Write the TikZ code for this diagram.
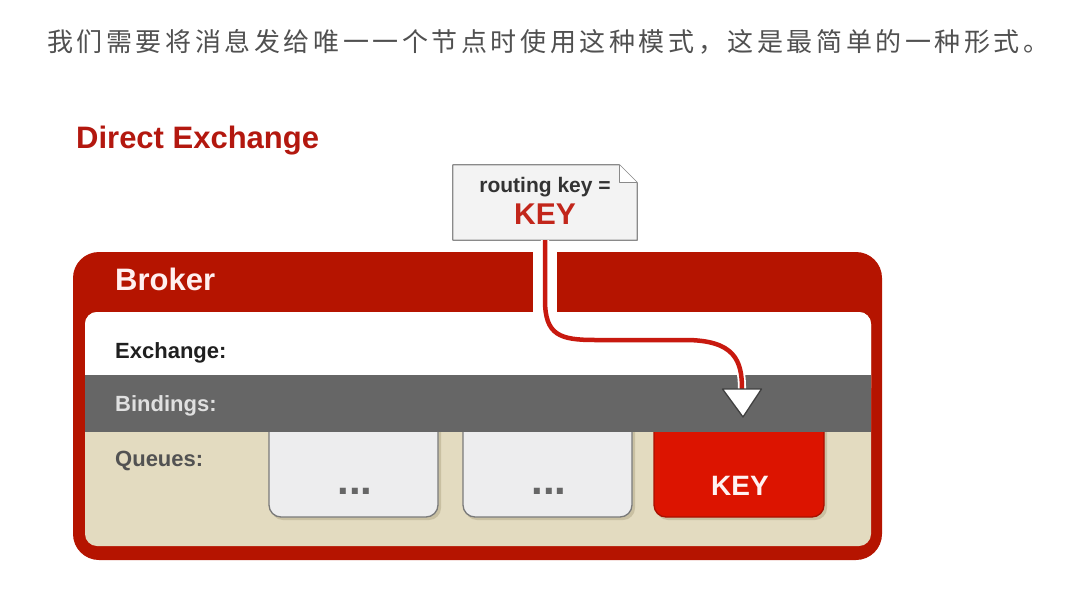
\documentclass[tikz,border=0pt]{standalone}
\usepackage{fontspec}
\setmainfont{Liberation Sans}
\newfontfamily\cjk[LetterSpace=13.8]{Noto Sans CJK SC}
\definecolor{brokerred}{HTML}{B51400}
\definecolor{titlered}{HTML}{B3180F}
\definecolor{keyred}{HTML}{C2261B}
\definecolor{routered}{HTML}{C8190F}
\definecolor{qred}{HTML}{DC1400}
\definecolor{qredborder}{HTML}{A81000}
\definecolor{bandgray}{HTML}{666666}
\definecolor{beige}{HTML}{E3DBC0}
\definecolor{shadowbeige}{HTML}{C9C0A2}
\definecolor{qgray}{HTML}{EDEDEE}
\definecolor{qborder}{HTML}{7A7A7A}
\definecolor{notefill}{HTML}{F3F3F3}
\definecolor{noteborder}{HTML}{8A8A8A}
\definecolor{introgray}{HTML}{505050}
\definecolor{dotgray}{HTML}{666666}
\tikzset{
  lbl/.style={anchor=base west, inner sep=0, font=\bfseries\fontsize{22}{26}\selectfont},
  queuebox/.style={draw=qborder, fill=qgray, line width=1.3, rounded corners=12},
  queueshadow/.style={fill=shadowbeige, rounded corners=12},
  route/.style={draw=white, double=routered, line width=1.8, double distance=4.5},
}
\begin{document}
\begin{tikzpicture}[x=1pt, y=-1pt]
\useasboundingbox (0,0) rectangle (1085,589);
% intro text
\node[anchor=base west, inner sep=0, font=\cjk\fontsize{26}{30}\selectfont, text=introgray] (intro) at (47,51) {我们需要将消息发给唯一一个节点时使用这种模式，这是最简单的一种形式。};
% title
\node[anchor=base west, inner sep=0, font=\bfseries\fontsize{31}{36}\selectfont, text=titlered] (title) at (76,148) {Direct Exchange};
% broker frame
\fill[brokerred, rounded corners=26] (73,252) rectangle (882,560);
\fill[white] (533,250) rectangle (557,314);
\fill[beige, rounded corners=12] (85,312) rectangle (871,546);
\fill[white, rounded corners=12] (85,312) rectangle (871,400);
% queue boxes
\fill[queueshadow] (271,420) -- (271,520) -- (441,520) -- (441,420) -- cycle;
\fill[queueshadow] (465,420) -- (465,520) -- (635,520) -- (635,420) -- cycle;
\fill[queueshadow] (656,420) -- (656,520) -- (827,520) -- (827,420) -- cycle;
\draw[queuebox] (269,420) -- (269,517) -- (438,517) -- (438,420);
\draw[queuebox] (463,420) -- (463,517) -- (632,517) -- (632,420);
\draw[queuebox, draw=qredborder, fill=qred] (654,420) -- (654,517) -- (824,517) -- (824,420);
% bindings band
\fill[bandgray] (85,375) rectangle (871,432);
% labels
\node[anchor=base west, inner sep=0, font=\bfseries\fontsize{31}{36}\selectfont, text=white!94!red] (broker) at (115,290) {Broker};
\node[lbl, text=black!88] (exch) at (115,358) {Exchange:};
\node[lbl, text=black!12] (bind) at (115,411) {Bindings:};
\node[lbl, text=black!68] (queues) at (115,466) {Queues:};
\node[anchor=base, inner sep=0, font=\bfseries\fontsize{42}{48}\selectfont, text=dotgray] (q1) at (355,494) {...};
\node[anchor=base, inner sep=0, font=\bfseries\fontsize{42}{48}\selectfont, text=dotgray] (q2) at (549,494) {...};
\node[anchor=base, inner sep=0, font=\bfseries\fontsize{28}{34}\selectfont, text=white!95!red] (q3) at (740,495) {KEY};
% routing key note
\node[minimum width=184, minimum height=75, inner sep=0] (note) at (545,202.5) {};
\draw[fill=notefill, draw=noteborder, line width=1.2, line join=round]
  (note.north west) -- ([xshift=-18]note.north east) -- ([yshift=-18]note.north east) -- (note.south east) -- (note.south west) -- cycle;
\draw[draw=noteborder, fill=white, line width=1.0, line join=round]
  ([xshift=-18]note.north east) -- ([xshift=-18,yshift=-18]note.north east) -- ([yshift=-18]note.north east);
\node[anchor=base, inner sep=0, font=\bfseries\fontsize{21}{25}\selectfont, text=black!80] (rk) at (545,192) {routing key =};
\node[anchor=base, inner sep=0, font=\bfseries\fontsize{30}{34}\selectfont, text=keyred] (key) at (545,224) {KEY};
% route
\coordinate (tri) at (742,389);
\draw[route] (note.south) -- ++(0,60) .. controls +(0,35) and +(-35,0) .. (595,340) -- (685,340) .. controls +(50,0) and +(0,-28) .. (tri);
\draw[fill=white, draw=black!75, line width=1.3, line join=round] (tri) ++(-19.5,0) -- ++(39,0) -- ++(-18.5,28) -- cycle;
\end{tikzpicture}
\end{document}
